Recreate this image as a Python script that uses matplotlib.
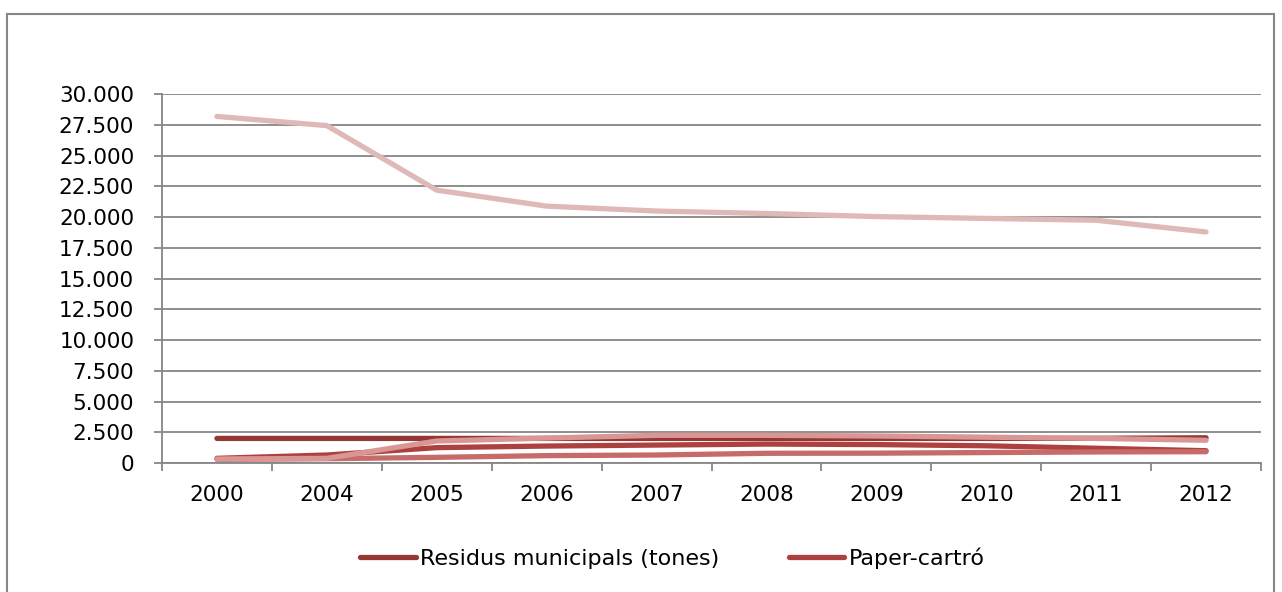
import matplotlib
matplotlib.use("Agg")
import matplotlib.pyplot as plt
from matplotlib.patches import Rectangle
from matplotlib.ticker import FuncFormatter, MultipleLocator

plt.rcParams["font.family"] = ["DejaVu Sans"]

years = ["2000", "2004", "2005", "2006", "2007", "2008", "2009", "2010", "2011", "2012"]

residus = [2000, 2000, 2000, 2000, 2000, 2000, 2000, 2000, 2010, 2050]
paper = [380, 650, 1250, 1380, 1460, 1540, 1500, 1400, 1200, 1000]
serie3 = [300, 350, 460, 600, 650, 790, 800, 850, 900, 920]
serie4 = [320, 380, 1790, 2030, 2250, 2250, 2200, 2100, 2000, 1850]
serie5 = [28200, 27450, 22200, 20900, 20500, 20300, 20050, 19900, 19750, 18800]

series = [
    ("Residus municipals (tones)", residus, "#953735"),
    ("Paper-cartró", paper, "#AC413F"),
    (None, serie3, "#C66B69"),
    (None, serie4, "#D99694"),
    (None, serie5, "#DEB9B8"),
]

fig = plt.figure(figsize=(12.82, 5.92), dpi=100)
fig.patches.append(Rectangle((7 / 1282, -0.1), 1267 / 1282, 1.1 - 14 / 592,
                             transform=fig.transFigure, fill=False,
                             edgecolor="#868686", linewidth=1.5))

ax = fig.add_axes([162 / 1282, 1 - 463 / 592, 1099 / 1282, (463 - 94.3) / 592])

x = list(range(len(years)))
for label, vals, color in series:
    ax.plot(x, vals, color=color, linewidth=3.8, solid_capstyle="round",
            label=label if label else "_nolegend_")

ax.set_xlim(-0.5, len(years) - 0.5)
ax.set_ylim(0, 30000)
ax.yaxis.set_major_locator(MultipleLocator(2500))
ax.yaxis.set_major_formatter(FuncFormatter(lambda v, p: f"{int(v):,}".replace(",", ".")))
ax.grid(axis="y", color="#868686", linewidth=1.3)
ax.set_axisbelow(True)

ax.set_xticks([i - 0.5 for i in range(len(years) + 1)])
ax.set_xticklabels([])
ax.set_xticks(x, minor=True)
ax.set_xticklabels(years, minor=True)
ax.tick_params(axis="x", which="major", length=6, color="#868686", width=1.3)
ax.tick_params(axis="x", which="minor", length=0, pad=16, labelsize=15.5)
ax.tick_params(axis="y", length=6, color="#868686", width=1.3, labelsize=15.5, pad=14)

for side in ["top", "right"]:
    ax.spines[side].set_visible(False)
for side in ["left", "bottom"]:
    ax.spines[side].set_color("#868686")
    ax.spines[side].set_linewidth(1.3)

fig.legend(loc="center", bbox_to_anchor=(0.5246, 1 - 558 / 592), ncol=2, frameon=False,
           fontsize=16, handlelength=2.5, handletextpad=0.22, columnspacing=3.1)

fig.savefig("out.png", dpi=100)
